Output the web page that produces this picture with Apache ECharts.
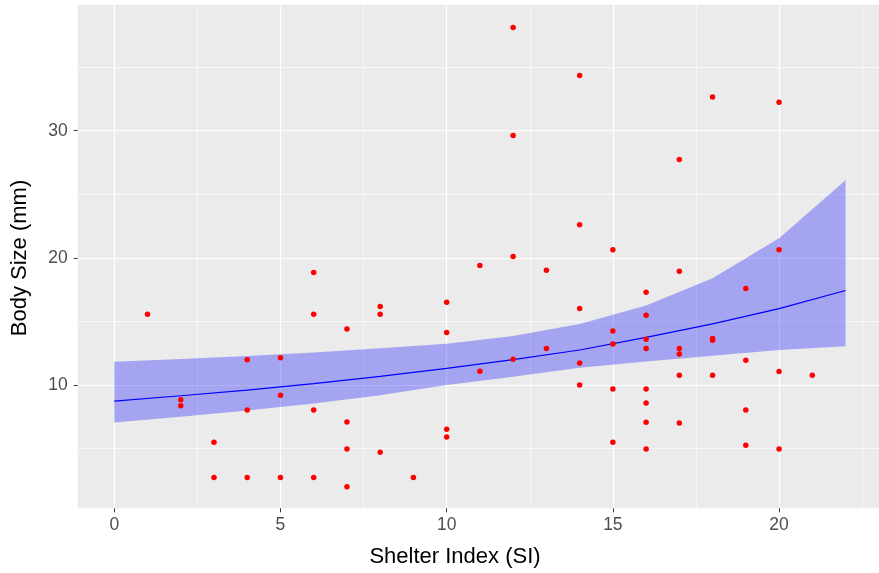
<!DOCTYPE html>
<html><head><meta charset="utf-8">
<script src="https://cdn.jsdelivr.net/npm/echarts@6/dist/echarts.min.js"></script>
<style>html,body{margin:0;padding:0;background:#fff}#c{width:879px;height:573px}</style>
</head><body><div id="c"></div>
<script>
// Observed points: Shelter Index (x) and Body Size mm (y)
const shelterIndex = [1, 2, 2, 3, 3, 4, 4, 4, 5, 5, 5, 6, 6, 6, 6, 7, 7, 7, 7, 8, 8, 8, 9,
  10, 10, 10, 10, 11, 11, 12, 12, 12, 12, 13, 13, 14, 14, 14, 14, 14,
  15, 15, 15, 15, 15, 16, 16, 16, 16, 16, 16, 16, 16, 17, 17, 17, 17, 17, 17,
  18, 18, 18, 18, 19, 19, 19, 19, 20, 20, 20, 20, 21];
const bodySize = [15.57, 8.84, 8.37, 5.49, 2.73, 11.99, 8.03, 2.73, 12.15, 9.19, 2.73,
  18.84, 15.57, 8.03, 2.73, 14.41, 7.09, 4.96, 1.99, 16.17, 15.57, 4.70, 2.73,
  16.51, 14.12, 6.51, 5.91, 19.39, 11.08, 38.11, 29.63, 20.10, 12.02, 19.03, 12.86,
  34.33, 22.60, 16.01, 11.73, 10.00,
  20.63, 14.25, 13.23, 9.69, 5.49,
  17.30, 15.49, 13.60, 12.86, 9.69, 8.58, 7.06, 4.96,
  27.74, 18.95, 12.86, 12.44, 10.76, 7.00,
  32.65, 13.52, 13.65, 10.76,
  17.58, 11.94, 8.03, 5.25,
  32.23, 20.63, 11.05, 4.96,
  10.76];
// Fitted curve with confidence band (read at SI = 0, 2, ..., 22)
const fitX = [0, 2, 4, 6, 8, 10, 12, 14, 16, 18, 20, 22];
const fitLine = [8.73, 9.15, 9.60, 10.10, 10.67, 11.30, 12.00, 12.75, 13.75, 14.80, 16.00, 17.43];
const fitLower = [7.05, 7.50, 8.00, 8.55, 9.20, 10.00, 10.65, 11.35, 11.85, 12.30, 12.75, 13.05];
const fitUpper = [11.83, 12.05, 12.28, 12.55, 12.88, 13.25, 13.85, 14.80, 16.25, 18.39, 21.54, 26.10];
// Axis ticks
const xTicks = [0, 5, 10, 15, 20];
const yTicks = [10, 20, 30];
const xMinor = [2.5, 7.5, 12.5, 17.5, 22.5];
const yMinor = [5, 15, 25, 35];

const X_MIN = -1.1, X_MAX = 23.1, Y_MIN = 0.3, Y_MAX = 39.9;
const FONT = '"Liberation Sans", Arial, Helvetica, sans-serif';

const chart = echarts.init(document.getElementById('c'), null, {renderer: 'canvas'});

const points = shelterIndex.map((x, i) => [x, bodySize[i]]);
const linePts = fitX.map((x, i) => [x, fitLine[i]]);
const bandData = fitX.map((x, i) => [x, fitLower[i], fitUpper[i]]);

function mainX() {
  return {
    type: 'value', min: X_MIN, max: X_MAX, position: 'bottom',
    axisLine: {show: false, onZero: false},
    axisTick: {show: true, length: 4, lineStyle: {color: '#333333', width: 1}, customValues: xTicks},
    axisLabel: {show: true, customValues: xTicks, margin: 8, color: '#4D4D4D', fontSize: 17.5, fontFamily: FONT},
    splitLine: {show: true, lineStyle: {color: '#FFFFFF', width: 1.2}}
  };
}
function mainY() {
  return {
    type: 'value', min: Y_MIN, max: Y_MAX, position: 'left',
    axisLine: {show: false, onZero: false},
    axisTick: {show: true, length: 4, lineStyle: {color: '#333333', width: 1}, customValues: yTicks},
    axisLabel: {show: true, customValues: yTicks, margin: 10, color: '#4D4D4D', fontSize: 17.5, fontFamily: FONT},
    splitLine: {show: true, lineStyle: {color: '#FFFFFF', width: 1.2}}
  };
}

const option = {
  animation: false,
  backgroundColor: '#FFFFFF',
  grid: {
    left: 77.7, top: 4.8, width: 804.4, height: 503.5,
    show: true, backgroundColor: '#EBEBEB', borderWidth: 0,
    outerBoundsMode: 'none', containLabel: false
  },
  xAxis: [
    mainX(),
    {
      type: 'value', min: X_MIN, max: X_MAX, position: 'top',
      axisLine: {show: false, onZero: false},
      axisTick: {show: false, customValues: xMinor},
      axisLabel: {show: false, customValues: xMinor},
      splitLine: {show: true, lineStyle: {color: '#FFFFFF', width: 0.6}}
    }
  ],
  yAxis: [
    mainY(),
    {
      type: 'value', min: Y_MIN, max: Y_MAX, position: 'right',
      axisLine: {show: false, onZero: false},
      axisTick: {show: false, customValues: yMinor},
      axisLabel: {show: false, customValues: yMinor},
      splitLine: {show: true, lineStyle: {color: '#FFFFFF', width: 0.6}}
    }
  ],
  graphic: [
    {type: 'text', x: 455, y: 557, style: {text: 'Shelter Index (SI)', fill: '#000000', font: '22px ' + FONT, textAlign: 'center', textVerticalAlign: 'middle'}},
    {type: 'text', x: 20, y: 258, rotation: Math.PI / 2, style: {text: 'Body Size (mm)', fill: '#000000', font: '22px ' + FONT, textAlign: 'center', textVerticalAlign: 'middle'}}
  ],
  series: [
    {
      type: 'custom', name: 'band', xAxisIndex: 0, yAxisIndex: 0, z: 2,
      data: bandData,
      encode: {x: 0, y: [1, 2]},
      renderItem: function (params, api) {
        if (params.dataIndex !== 0) return null;
        const pts = [];
        for (let i = 0; i < fitX.length; i++) pts.push(api.coord([fitX[i], fitUpper[i]]));
        for (let i = fitX.length - 1; i >= 0; i--) pts.push(api.coord([fitX[i], fitLower[i]]));
        return {type: 'polygon', shape: {points: pts}, style: {fill: 'rgba(0,0,255,0.3)', stroke: null}};
      },
      silent: true
    },
    {
      type: 'line', name: 'fit', xAxisIndex: 0, yAxisIndex: 0, z: 3,
      data: linePts, symbol: 'none', smooth: false,
      lineStyle: {color: '#0000FF', width: 1.2}, silent: true
    },
    {
      type: 'scatter', name: 'obs', xAxisIndex: 0, yAxisIndex: 0, z: 4,
      data: points, symbol: 'circle', symbolSize: 5.5,
      itemStyle: {color: '#FF0000', opacity: 1}, silent: true
    }
  ]
};
chart.setOption(option);
</script>
</body></html>
